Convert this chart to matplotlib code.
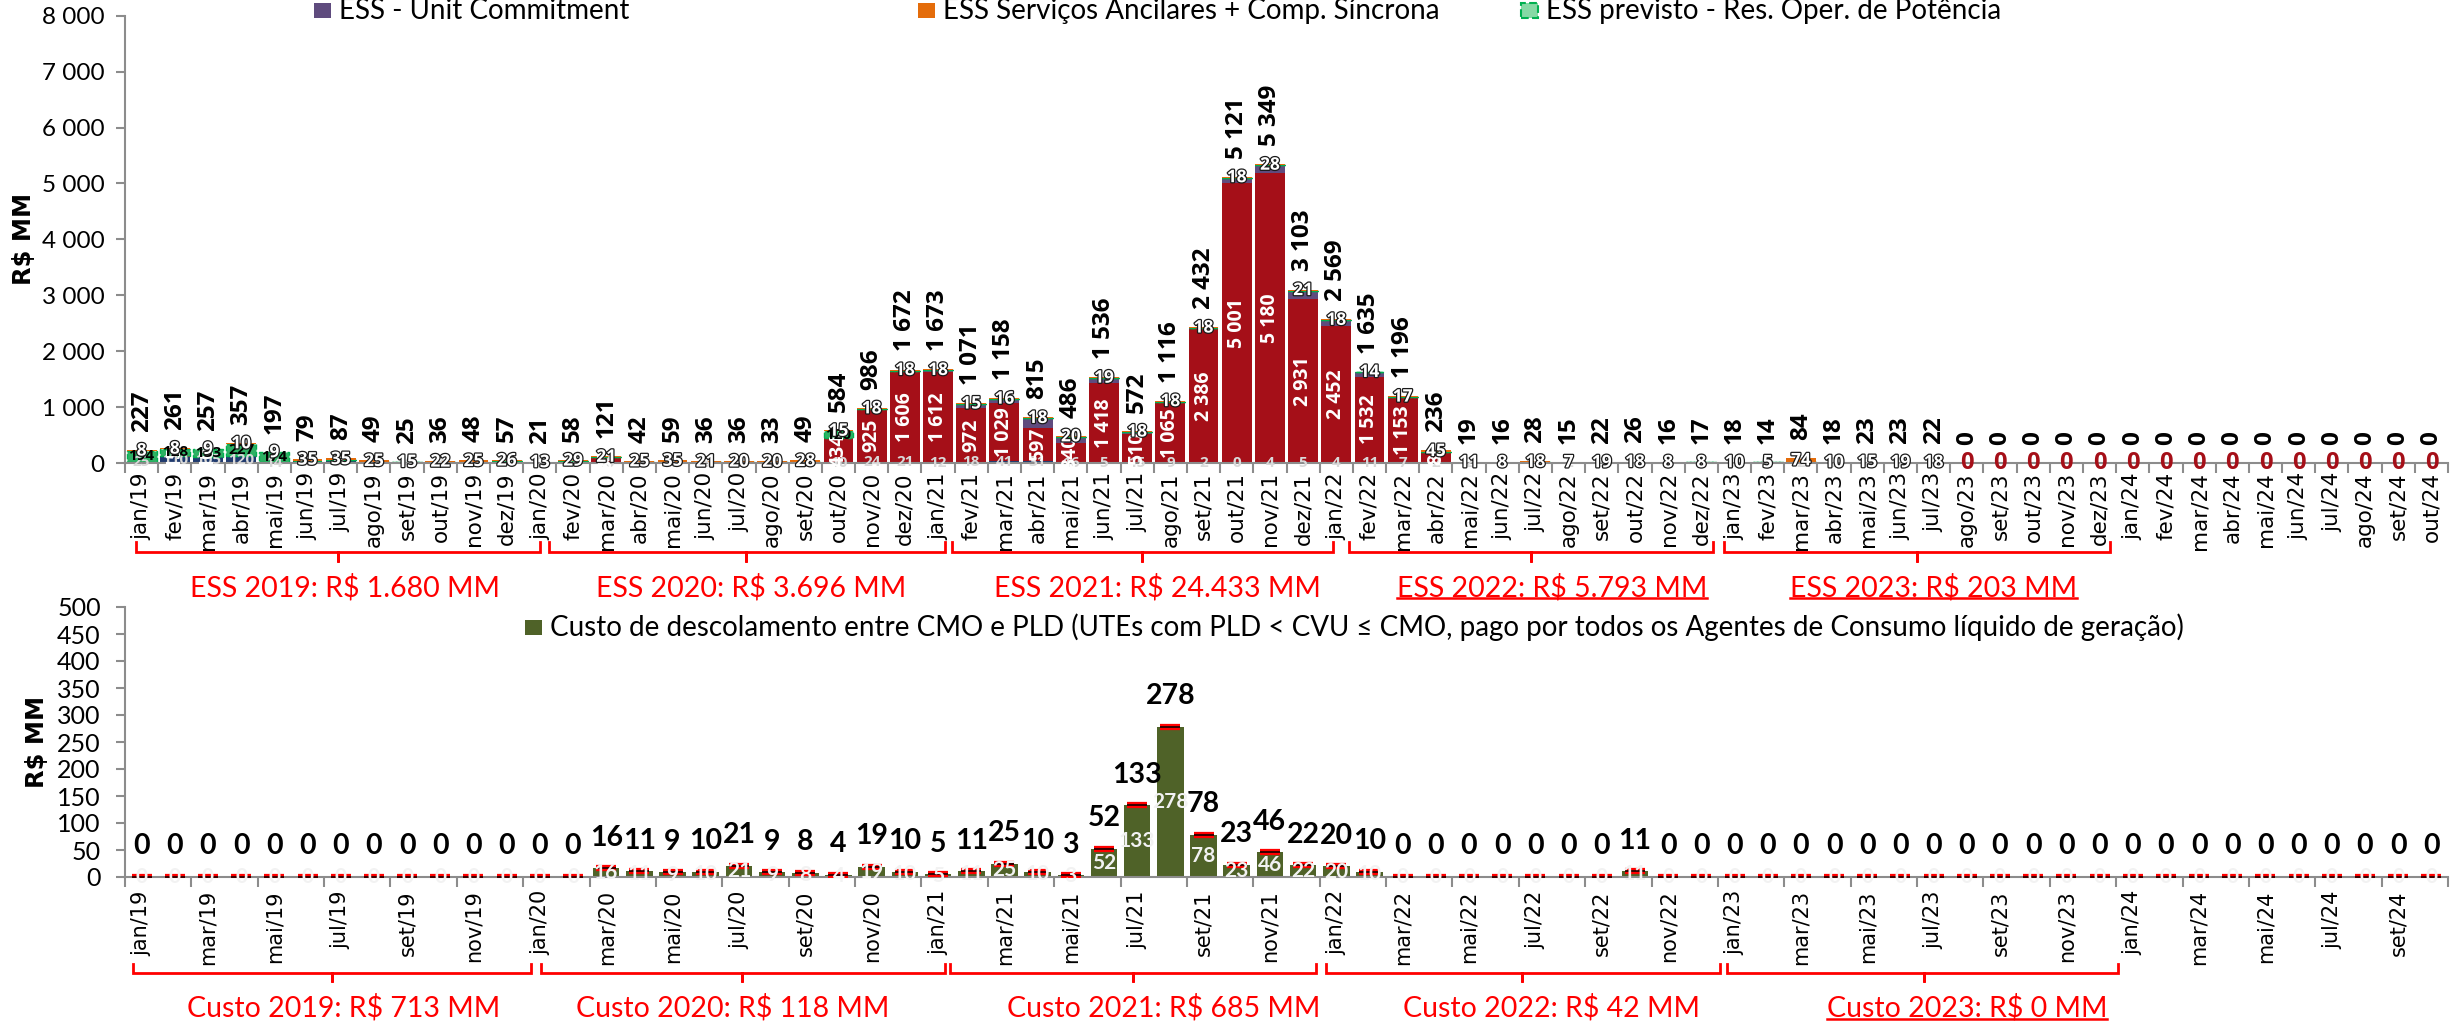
import numpy as np
import matplotlib
matplotlib.use("Agg")
import matplotlib.pyplot as plt
from matplotlib.patches import Rectangle
from matplotlib.lines import Line2D
from matplotlib import transforms
import matplotlib.patheffects as pe

# ---------------------------------------------------------------- data
months = [
    "jan/19", "fev/19", "mar/19", "abr/19", "mai/19", "jun/19", "jul/19", "ago/19", "set/19", "out/19", "nov/19", "dez/19",
    "jan/20", "fev/20", "mar/20", "abr/20", "mai/20", "jun/20", "jul/20", "ago/20", "set/20", "out/20", "nov/20", "dez/20",
    "jan/21", "fev/21", "mar/21", "abr/21", "mai/21", "jun/21", "jul/21", "ago/21", "set/21", "out/21", "nov/21", "dez/21",
    "jan/22", "fev/22", "mar/22", "abr/22", "mai/22", "jun/22", "jul/22", "ago/22", "set/22", "out/22", "nov/22", "dez/22",
    "jan/23", "fev/23", "mar/23", "abr/23", "mai/23", "jun/23", "jul/23", "ago/23", "set/23", "out/23", "nov/23", "dez/23",
    "jan/24", "fev/24", "mar/24", "abr/24", "mai/24", "jun/24", "jul/24", "ago/24", "set/24", "out/24",
]

# ESS components, R$ MM (stacked bottom -> top)
ess_restricao = [25, 110, 105, 120, 14, 42, 50, 18, 4, 8, 17, 21,
                 2, 24, 10, 15, 20, 8, 8, 7, 12, 10, 24, 21,
                 12, 18, 41, 31, 16, 5, 15, 9, 2, 0, 4, 5,
                 4, 11, 7, 2, 2, 2, 3, 2, 3, 2, 2, 2,
                 2, 2, 2, 2, 2, 2, 2, 0, 0, 0, 0, 0,
                 0, 0, 0, 0, 0, 0, 0, 0, 0, 0]
ess_seg_energetica = [0, 15, 10, 0, 0, 0, 0, 0, 0, 0, 0, 0,
                      0, 0, 85, 0, 0, 0, 0, 0, 0, 434, 925, 1606,
                      1612, 972, 1029, 597, 340, 1418, 510, 1065, 2386, 5001, 5180, 2931,
                      2452, 1532, 1153, 185, 0, 0, 0, 0, 0, 0, 0, 0,
                      0, 0, 0, 0, 0, 0, 0, 0, 0, 0, 0, 0,
                      0, 0, 0, 0, 0, 0, 0, 0, 0, 0]
ess_unit_commitment = [0, 0, 0, 0, 0, 2, 2, 6, 6, 6, 6, 10,
                       6, 5, 5, 2, 4, 7, 8, 6, 9, 5, 19, 27,
                       31, 66, 72, 169, 110, 94, 29, 24, 26, 102, 137, 146,
                       95, 78, 19, 4, 6, 6, 7, 6, 0, 6, 6, 7,
                       6, 7, 8, 6, 6, 2, 2, 0, 0, 0, 0, 0,
                       0, 0, 0, 0, 0, 0, 0, 0, 0, 0]
ess_previsto = [194, 128, 133, 227, 174, 0, 0, 0, 0, 0, 0, 0,
                0, 0, 0, 0, 0, 0, 0, 0, 0, 120, 0, 0,
                0, 0, 0, 0, 0, 0, 0, 0, 0, 0, 0, 0,
                0, 0, 0, 0, 0, 0, 0, 0, 0, 0, 0, 0,
                0, 0, 0, 0, 0, 0, 0, 0, 0, 0, 0, 0,
                0, 0, 0, 0, 0, 0, 0, 0, 0, 0]
ess_ancilares = [8, 8, 9, 10, 9, 35, 35, 25, 15, 22, 25, 26,
                 13, 29, 21, 25, 35, 21, 20, 20, 28, 15, 18, 18,
                 18, 15, 16, 18, 20, 19, 18, 18, 18, 18, 28, 21,
                 18, 14, 17, 45, 11, 8, 18, 7, 19, 18, 8, 8,
                 10, 5, 74, 10, 15, 19, 18, 0, 0, 0, 0, 0,
                 0, 0, 0, 0, 0, 0, 0, 0, 0, 0]

# Custo de descolamento CMO x PLD, R$ MM
custo_descolamento = [0, 0, 0, 0, 0, 0, 0, 0, 0, 0, 0, 0,
                      0, 0, 16, 11, 9, 10, 21, 9, 8, 4, 19, 10,
                      5, 11, 25, 10, 3, 52, 133, 278, 78, 23, 46, 22,
                      20, 10, 0, 0, 0, 0, 0, 0, 0, 11, 0, 0,
                      0, 0, 0, 0, 0, 0, 0, 0, 0, 0, 0, 0,
                      0, 0, 0, 0, 0, 0, 0, 0, 0, 0]

ess_year_labels = ["ESS 2019: R$ 1.680 MM", "ESS 2020: R$ 3.696 MM", "ESS 2021: R$ 24.433 MM",
                   "ESS 2022: R$ 5.793 MM", "ESS 2023: R$ 203 MM"]
custo_year_labels = ["Custo 2019: R$ 713 MM", "Custo 2020: R$ 118 MM", "Custo 2021: R$ 685 MM",
                     "Custo 2022: R$ 42 MM", "Custo 2023: R$ 0 MM"]

legend_top = ["ESS - Unit Commitment", "ESS Serviços Ancilares + Comp. Síncrona",
              "ESS previsto - Res. Oper. de Potência"]
legend_bottom = ("Custo de descolamento entre CMO e PLD (UTEs com PLD < CVU \u2264 CMO, "
                 "pago por todos os Agentes de Consumo líquido de geração)")

# ---------------------------------------------------------------- style
C_NAVY = "#1F3A6E"
C_RED = "#A50F18"
C_PURPLE = "#5F4B7E"
C_ORANGE = "#E46C0A"
C_GREEN = "#2DB163"
C_GREEN_EDGE = "#00B050"
C_OLIVE = "#4F6228"
C_AXIS = "#8C8C8C"

F_CAL = ["Lato", "DejaVu Sans"]
F_VER = ["DejaVu Sans"]
F_NUM = ["Open Sans", "DejaVu Sans"]

W, H = 2455, 1024
fig = plt.figure(figsize=(W / 100, H / 100), dpi=100)


def fx(px):
    return px / W


def fy(py):
    return 1 - py / H


def sep(v):
    return f"{v:,}".replace(",", " ")


n = len(months)
x = np.arange(n)
XL, XR = 125, 2448

# ================================================================ top chart
ax1 = fig.add_axes([fx(XL), fy(463), fx(XR) - fx(XL), fy(15.7) - fy(463)])
layers = [
    (np.array(ess_restricao), dict(color=C_NAVY)),
    (np.array(ess_seg_energetica), dict(color=C_RED)),
    (np.array(ess_unit_commitment), dict(color=C_PURPLE)),
    (np.array(ess_previsto), dict(color=C_GREEN, edgecolor=C_GREEN_EDGE, linestyle="--", linewidth=1.0)),
    (np.array(ess_ancilares), dict(color=C_ORANGE)),
]
bottom = np.zeros(n)
bottoms = []
for vals, kw in layers:
    ax1.bar(x, vals, 0.9, bottom=bottom, **kw)
    bottoms.append(bottom.copy())
    bottom = bottom + vals
total = bottom

ax1.set_xlim(-0.5, n - 0.5)
ax1.set_ylim(0, 8000)
ax1.set_yticks(np.arange(0, 8001, 1000))
ax1.set_yticklabels([sep(v) for v in range(0, 8001, 1000)], fontfamily=F_CAL, fontsize=17.5)

# segment labels
restr, seg, uc, prev, anc = [l[0] for l in layers]
b_restr, b_seg, b_uc, b_prev, b_anc = bottoms
stroke = [pe.withStroke(linewidth=1.8, foreground="#1a1a1a")]
for i in range(n):
    if restr[i] > 0 or seg[i] > 1000:
        ax1.text(i, b_restr[i] + restr[i] / 2, str(restr[i]), ha="center", va="center",
                 color="#D9D9D9", fontsize=11, fontweight="bold", fontfamily=F_NUM, zorder=5)
    if seg[i] > 0:
        ax1.text(i, b_seg[i] + seg[i] / 2, sep(seg[i]), ha="center", va="center", rotation=90,
                 color="white", fontsize=14, fontweight="bold", fontfamily=F_NUM, zorder=5)
    if prev[i] > 0:
        ax1.text(i, b_prev[i] + prev[i] / 2, str(prev[i]), ha="center", va="center",
                 color="black", fontsize=11, fontweight="bold", fontfamily=F_NUM, zorder=6)
    if anc[i] > 0:
        ax1.text(i, b_anc[i] + anc[i] / 2, str(anc[i]), ha="center", va="center",
                 color="white", fontsize=12.5, fontweight="bold", fontfamily=F_NUM, zorder=7,
                 path_effects=stroke)
    if total[i] == 0:
        ax1.text(i, 0, "0", ha="center", va="center", color=C_RED, fontsize=17,
                 fontweight="bold", fontfamily=F_NUM, zorder=7)
    ax1.annotate(sep(int(total[i])), (i, total[i]), xytext=(0, 13), textcoords="offset points",
                 rotation=90, ha="center", va="bottom", fontsize=17.5, fontweight="bold",
                 fontfamily=F_NUM, color="black", annotation_clip=False)

# ================================================================ bottom chart
ax2 = fig.add_axes([fx(XL), fy(877), fx(XR) - fx(XL), fy(607) - fy(877)])
custo = np.array(custo_descolamento)
ax2.bar(x, custo, 0.8, color=C_OLIVE, zorder=2)
ax2.plot(x, custo, ls="none", marker="_", ms=15, mew=4.5, color="#FF0000", zorder=3)
ax2.plot(x, custo, ls="none", marker="_", ms=15, mew=1.1, color="black", zorder=4)
for i in range(n):
    ax2.text(i, custo[i] / 2, str(custo[i]), ha="center", va="center", color="#F2F2F2",
             fontsize=15, fontweight="bold", fontfamily=F_CAL, zorder=5)
    ax2.annotate(str(custo[i]), (i, custo[i]), xytext=(0, 22), textcoords="offset points",
                 ha="center", va="center", fontsize=20.5, fontweight="bold", fontfamily=F_CAL,
                 color="black", annotation_clip=False)
ax2.set_xlim(-0.5, n - 0.5)
ax2.set_ylim(0, 500)
ax2.set_yticks(np.arange(0, 501, 50))
ax2.set_yticklabels([str(v) for v in range(0, 501, 50)], fontfamily=F_CAL, fontsize=18)

# ---------------------------------------------------------------- axes styling
for ax, step, lpad, xfs in ((ax1, 1, 6.5, 15.5), (ax2, 2, 9.5, 15)):
    for s in ("top", "right"):
        ax.spines[s].set_visible(False)
    for s in ("left", "bottom"):
        ax.spines[s].set_color(C_AXIS)
        ax.spines[s].set_linewidth(1.5)
    ax.set_xticks(x[::step])
    ax.set_xticklabels(months[::step], rotation=90, fontfamily=F_VER, fontsize=xfs)
    ax.set_xticks(np.arange(-0.5, n, step), minor=True)
    ax.tick_params(axis="x", which="major", length=0, pad=lpad)
    ax.tick_params(axis="x", which="minor", length=7, width=1.5, color=C_AXIS, direction="out")
    ax.tick_params(axis="y", which="major", length=6.5, width=1.5, color=C_AXIS, direction="out")
    ax.set_ylabel("R$ MM", fontfamily=F_VER, fontweight="bold", fontsize=17.5)

ax1.tick_params(axis="y", pad=8)
ax2.tick_params(axis="y", pad=11)
ax1.yaxis.set_label_coords((36 - XL) / (XR - XL), 0.5)
ax2.yaxis.set_label_coords((49 - XL) / (XR - XL), 0.5)

# ---------------------------------------------------------------- legends
def legend_entry(px_sq, py_base, label, face, edge=None, ls="-", sq=(17, 15)):
    rect = Rectangle((fx(px_sq), fy(py_base - 1)), sq[0] / W, sq[1] / H, transform=fig.transFigure,
                     facecolor=face, edgecolor=edge if edge else face, linestyle=ls,
                     linewidth=1.5 if edge else 0)
    fig.add_artist(rect)
    fig.text(fx(px_sq + sq[0] + 8), fy(py_base), label, fontfamily=F_CAL, fontsize=20,
             ha="left", va="baseline", color="black")

legend_entry(314, 19, legend_top[0], C_PURPLE)
legend_entry(918, 19, legend_top[1], C_ORANGE)
legend_entry(1521, 19, legend_top[2], "#86D9A5", edge=C_GREEN_EDGE, ls="--")
legend_entry(525, 636, legend_bottom, C_OLIVE)

# ---------------------------------------------------------------- year brackets
def bracket(ax, x0, x1, xc, y_top, y_line, y_tip):
    tr = transforms.blended_transform_factory(ax.transData, fig.transFigure)
    ax.plot([x0, x0, xc, xc, xc, x1, x1],
            [fy(y_top), fy(y_line), fy(y_line), fy(y_tip), fy(y_line), fy(y_line), fy(y_top)],
            color="#FF0000", lw=2, transform=tr, clip_on=False, solid_joinstyle="miter")


def year_text(ax, xc, y_base, label, underline=False):
    tr = transforms.blended_transform_factory(ax.transData, fig.transFigure)
    t = ax.text(xc, fy(y_base), label, transform=tr, ha="center", va="baseline",
                color="#FF0000", fontsize=20.5, fontfamily=F_CAL, clip_on=False)
    return t, underline


ess_spans = [(-0.17, 12.0, 5.92), (12.27, 24.2, 18.2), (24.41, 35.9, 30.16),
             (36.37, 47.36, 41.88), (47.69, 59.32, 53.5)]
ess_text_x = [6.13, 18.36, 30.6, 42.5, 54.0]
custo_spans = [(-0.26, 11.73, 5.73), (12.03, 24.2, 18.1), (24.35, 35.4, 29.86),
               (35.7, 47.57, 41.6), (47.78, 59.56, 53.7)]
custo_text_x = [6.1, 17.8, 30.8, 42.5, 55.0]

texts = []
for (a, b, c), xt, lab, k in zip(ess_spans, ess_text_x, ess_year_labels, range(5)):
    bracket(ax1, a, b, c, 542, 552, 562)
    texts.append(year_text(ax1, xt, 596, lab, underline=k >= 3))
for (a, b, c), xt, lab, k in zip(custo_spans, custo_text_x, custo_year_labels, range(5)):
    bracket(ax2, a, b, c, 964, 973, 982)
    texts.append(year_text(ax2, xt, 1017, lab, underline=k == 4))

fig.canvas.draw()
for t, ul in texts:
    if ul:
        bb = t.get_window_extent()
        y = bb.y0 + 3
        fig.add_artist(Line2D([bb.x0 / W, bb.x1 / W], [y / H, y / H], transform=fig.transFigure,
                              color="#FF0000", lw=1.8))

fig.savefig("out.png", dpi=100, facecolor="white")
